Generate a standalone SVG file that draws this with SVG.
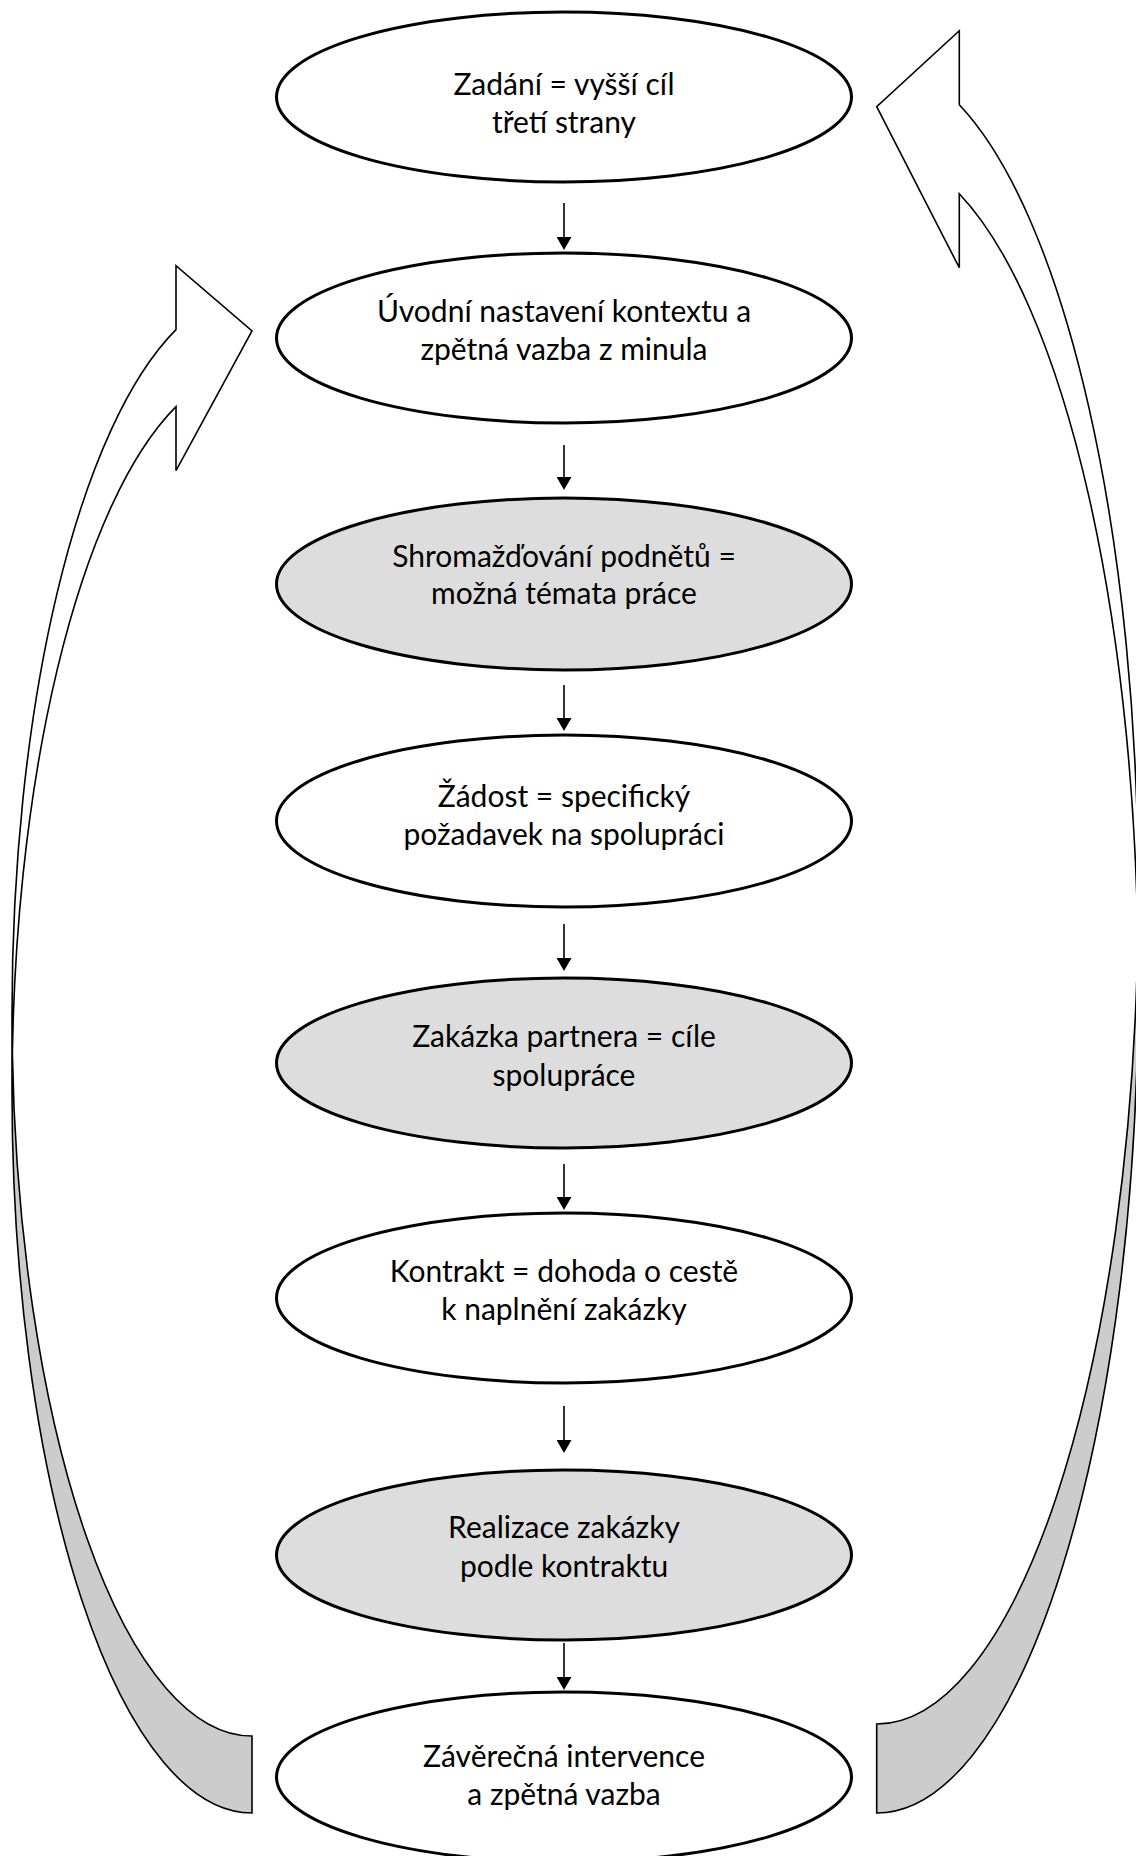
<svg xmlns="http://www.w3.org/2000/svg" width="1136" height="1856" viewBox="0 0 1136 1856">
<defs>
<style>
.node ellipse { stroke:#000; stroke-width:3; }
.white { fill:#ffffff; }
.gray { fill:#dddddd; }
.label { font-family: Lato, "Open Sans", sans-serif; font-size:30px; fill:#000; text-anchor:middle; }
.conn line { stroke:#000; stroke-width:1.6; fill:none; marker-end:url(#ah); }
.front { fill:#ffffff; stroke:none; }
.back { fill:#cccccc; stroke:none; }
.edge { fill:none; stroke:#000; stroke-width:1.6; stroke-linejoin:miter; }
</style>
<marker id="ah" viewBox="0 0 13 15" markerWidth="13" markerHeight="15" refX="11" refY="7.5" orient="auto" markerUnits="userSpaceOnUse">
<path d="M0,0 L13,7.5 L0,15 Z" fill="#000"/>
</marker>
</defs>
<rect width="1136" height="1856" fill="#ffffff"/>

<g id="loop-left">
<path class="front" d="M12,1091.25 A240,721.75 0 0 1 176,406.64 L176,470.64 L252,331 L176,265.64 L176,329.64 A240,721.75 0 0 0 12,1014.25 Z"/>
<path class="back" d="M252,1736 A240,721.75 0 0 1 12.34,1052.75 A240,721.75 0 0 0 252,1813 Z"/>
<path class="edge" d="M12,1091.25 A240,721.75 0 0 1 176,406.64 L176,470.64 L252,331 L176,265.64 L176,329.64 A240,721.75 0 0 0 12,1014.25 L12,1091.25 A240,721.75 0 0 0 252,1813 L252,1736 A240,721.75 0 0 1 12.34,1052.75"/>
</g>

<g id="loop-right">
<path class="front" d="M1138.2,982.1 A261.5,830.9 0 0 0 959.3,193.74 L959.3,267.74 L876.7,106.7 L959.3,30.74 L959.3,104.74 A261.5,830.9 0 0 1 1138.2,893.1 Z"/>
<path class="back" d="M876.7,1724 A261.5,830.9 0 0 0 1137.83,937.6 A261.5,830.9 0 0 1 876.7,1813 Z"/>
<path class="edge" d="M1138.2,982.1 A261.5,830.9 0 0 0 959.3,193.74 L959.3,267.74 L876.7,106.7 L959.3,30.74 L959.3,104.74 A261.5,830.9 0 0 1 1138.2,893.1 L1138.2,982.1 A261.5,830.9 0 0 1 876.7,1813 L876.7,1724 A261.5,830.9 0 0 0 1137.83,937.6"/>
</g>

<g id="connectors" class="conn">
<line x1="564" y1="203" x2="564" y2="248"/>
<line x1="564" y1="445" x2="564" y2="488"/>
<line x1="564" y1="685" x2="564" y2="729"/>
<line x1="564" y1="924" x2="564" y2="969"/>
<line x1="564" y1="1164" x2="564" y2="1208"/>
<line x1="564" y1="1406" x2="564" y2="1451"/>
<line x1="564" y1="1643" x2="564" y2="1688"/>
</g>

<g id="n1" class="node">
<ellipse class="white" cx="564" cy="97" rx="287.5" ry="85"/>
<text class="label" x="564" y="95">Zadání = vyšší cíl</text>
<text class="label" x="564" y="133">třetí strany</text>
</g>
<g id="n2" class="node">
<ellipse class="white" cx="564" cy="338" rx="287.5" ry="85"/>
<text class="label" x="564" y="322">Úvodní nastavení kontextu a</text>
<text class="label" x="564" y="360">zpětná vazba z minula</text>
</g>
<g id="n3" class="node">
<ellipse class="gray" cx="564" cy="584" rx="287.5" ry="86"/>
<text class="label" x="564" y="567">Shromažďování podnětů =</text>
<text class="label" x="564" y="604">možná témata práce</text>
</g>
<g id="n4" class="node">
<ellipse class="white" cx="564" cy="821" rx="287.5" ry="86"/>
<text class="label" x="564" y="807">Žádost = specifický</text>
<text class="label" x="564" y="845">požadavek na spolupráci</text>
</g>
<g id="n5" class="node">
<ellipse class="gray" cx="564" cy="1063" rx="287.5" ry="85"/>
<text class="label" x="564" y="1047">Zakázka partnera = cíle</text>
<text class="label" x="564" y="1086">spolupráce</text>
</g>
<g id="n6" class="node">
<ellipse class="white" cx="564" cy="1298" rx="287.5" ry="85"/>
<text class="label" x="564" y="1282">Kontrakt = dohoda o cestě</text>
<text class="label" x="564" y="1320">k naplnění zakázky</text>
</g>
<g id="n7" class="node">
<ellipse class="gray" cx="564" cy="1555" rx="287.5" ry="85"/>
<text class="label" x="564" y="1538">Realizace zakázky</text>
<text class="label" x="564" y="1577">podle kontraktu</text>
</g>
<g id="n8" class="node">
<ellipse class="white" cx="564" cy="1777" rx="287.5" ry="85"/>
<text class="label" x="564" y="1767">Závěrečná intervence</text>
<text class="label" x="564" y="1805">a zpětná vazba</text>
</g>
</svg>
